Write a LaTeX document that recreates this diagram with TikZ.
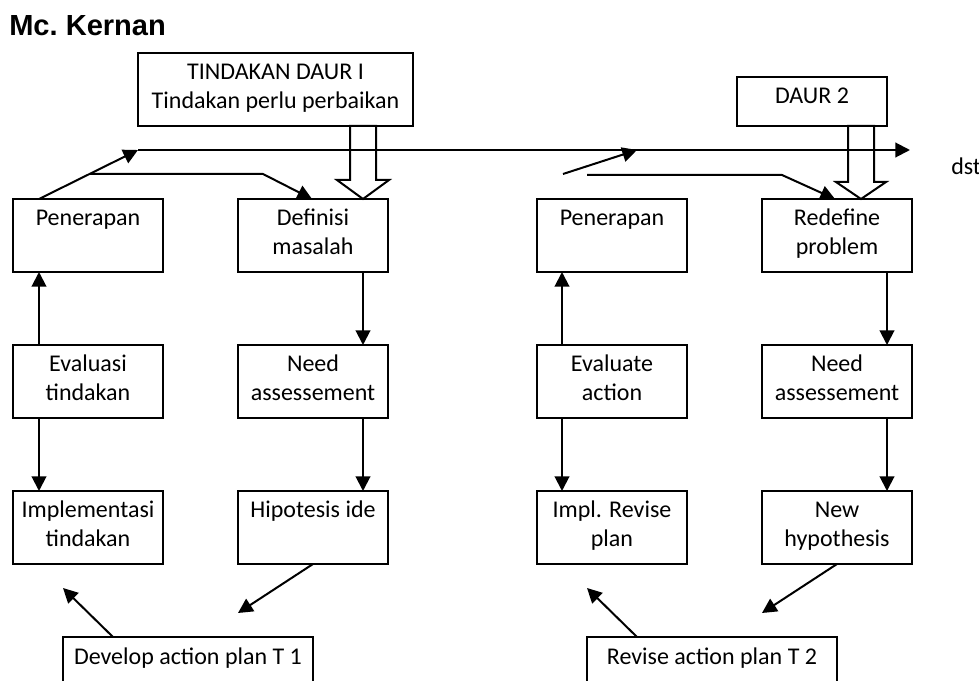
\documentclass[tikz,border=0pt]{standalone}
\usepackage{fontspec}
\setmainfont{Carlito}
\newfontfamily\titlefont{Liberation Sans}
\usetikzlibrary{arrows.meta,calc}
\newcommand{\tl}[1]{\parbox[t]{250pt}{\centering #1}}
\begin{document}
\begin{tikzpicture}[x=0.75pt,y=-0.75pt,
  box/.style={draw,line width=1.5pt,rectangle,anchor=north west,minimum width=112.5pt,minimum height=54.75pt,inner sep=0pt,outer sep=0pt},
  lbl/.style={anchor=base,inner sep=0pt,outer sep=0pt,font=\fontsize{18pt}{21.75pt}\selectfont},
  arr/.style={line width=1.5pt,-{Triangle[length=11pt,width=11pt]}},
  ln/.style={line width=1.5pt},
  blk/.style={line width=1.5pt,line join=miter}]
\clip (0,0) rectangle (979,681);
% title
\node[anchor=base west,inner sep=0pt,font=\titlefont\bfseries\fontsize{21.8pt}{26pt}\selectfont] (title) at (9,36) {Mc.\ Kernan};
% top boxes
\node[box,minimum width=206.25pt] (tind) at (138,53) {};
\node[lbl] (tindt) at ($(tind.north)+(0,26.5)$) {\tl{TINDAKAN DAUR I\\Tindakan perlu perbaikan}};
\node[box,minimum height=36.75pt] (daur) at (737,77) {};
\node[lbl] (daurt) at ($(daur.north)+(0,27)$) {\tl{DAUR 2}};
% grid boxes
\node[box] (pen1) at (13,199) {};
\node[box] (def1) at (238,199) {};
\node[box] (pen2) at (537,199) {};
\node[box] (red2) at (762,199) {};
\node[box] (ev1) at (13,345) {};
\node[box] (need1) at (238,345) {};
\node[box] (ev2) at (537,345) {};
\node[box] (need2) at (762,345) {};
\node[box] (imp1) at (13,491) {};
\node[box] (hip1) at (238,491) {};
\node[box] (imp2) at (537,491) {};
\node[box] (hyp2) at (762,491) {};
\node[box,minimum width=187.5pt] (dev) at (63,637) {};
\node[box,minimum width=187.5pt] (rev) at (587,637) {};
% texts
\node[lbl] (pen1t) at ($(pen1.north)+(0,26.5)$) {\tl{Penerapan}};
\node[lbl] (def1t) at ($(def1.north)+(0,26.5)$) {\tl{Definisi\\masalah}};
\node[lbl] (pen2t) at ($(pen2.north)+(0,26.5)$) {\tl{Penerapan}};
\node[lbl] (red2t) at ($(red2.north)+(0,26.5)$) {\tl{Redefine\\problem}};
\node[lbl] (ev1t) at ($(ev1.north)+(0,26.5)$) {\tl{Evaluasi\\tindakan}};
\node[lbl] (need1t) at ($(need1.north)+(0,26.5)$) {\tl{Need\\assessement}};
\node[lbl] (ev2t) at ($(ev2.north)+(0,26.5)$) {\tl{Evaluate\\action}};
\node[lbl] (need2t) at ($(need2.north)+(0,26.5)$) {\tl{Need\\assessement}};
\node[lbl] (imp1t) at ($(imp1.north)+(0,26.5)$) {\tl{Implementasi\\tindakan}};
\node[lbl] (hip1t) at ($(hip1.north)+(0,26.5)$) {\tl{Hipotesis ide}};
\node[lbl] (imp2t) at ($(imp2.north)+(0,26.5)$) {\tl{Impl. Revise\\plan}};
\node[lbl] (hyp2t) at ($(hyp2.north)+(0,26.5)$) {\tl{New\\hypothesis}};
\node[lbl] (devt) at ($(dev.north)+(0,27)$) {\tl{Develop action plan T 1}};
\node[lbl] (revt) at ($(rev.north)+(0,27)$) {\tl{Revise action plan T 2}};
\node[anchor=base west,inner sep=0pt,font=\fontsize{18pt}{21.75pt}\selectfont] (dst) at (951,175) {dst};
% vertical arrows
\draw[arr] ($(ev1.north west)+(26,0)$) -- ($(pen1.south west)+(26,0)$);
\draw[arr] ($(ev1.south west)+(26,0)$) -- ($(imp1.north west)+(26,0)$);
\draw[arr] ($(def1.south west)+(125,0)$) -- ($(need1.north west)+(125,0)$);
\draw[arr] ($(need1.south west)+(125,0)$) -- ($(hip1.north west)+(125,0)$);
\draw[arr] ($(ev2.north west)+(25,0)$) -- ($(pen2.south west)+(25,0)$);
\draw[arr] ($(ev2.south west)+(25,0)$) -- ($(imp2.north west)+(25,0)$);
\draw[arr] ($(red2.south west)+(125,0)$) -- ($(need2.north west)+(125,0)$);
\draw[arr] ($(need2.south west)+(125,0)$) -- ($(hyp2.north west)+(125,0)$);
% long horizontal line
\coordinate (hs) at (138,150);
\coordinate (he) at (910,150);
\draw[arr] (hs) -- (he);
% left loop
\coordinate (p1top) at ($(pen1.north west)+(26,0)$);
\draw[arr] (p1top) -- (hs);
\draw[arr] ($(p1top)!0.515!(hs)$) -- (263,174) -- ($(def1.north west)+(74,0)$);
% right loop
\coordinate (r1s) at (563,174);
\coordinate (r1e) at (637,150);
\draw[arr] (r1s) -- (r1e);
\draw[arr] (587,175) -- (782,175) -- ($(red2.north west)+(73,0)$);
% block arrows
\coordinate (t1) at ($(def1.north west)+(125,0)$);
\draw[blk] (t1) -- ($(t1)+(-26,-19)$) -- ($(t1)+(-13,-19)$) -- ($(t1 |- tind.south)+(-13,0)$)
  -- ($(t1 |- tind.south)+(13,0)$) -- ($(t1)+(13,-19)$) -- ($(t1)+(26,-19)$) -- cycle;
\coordinate (t2) at ($(red2.north west)+(99,0)$);
\draw[blk] (t2) -- ($(t2)+(-25,-17)$) -- ($(t2)+(-13,-17)$) -- ($(t2 |- daur.south)+(-13,0)$)
  -- ($(t2 |- daur.south)+(13,0)$) -- ($(t2)+(13,-17)$) -- ($(t2)+(25,-17)$) -- cycle;
% bottom diagonals
\coordinate (b1) at (63,588);
\coordinate (b2) at (238,613);
\coordinate (b3) at (587,588);
\coordinate (b4) at (762,613);
\draw[arr] ($(dev.north west)+(50,0)$) -- (b1);
\draw[arr] (hip1.south) -- (b2);
\draw[arr] ($(rev.north west)+(50,0)$) -- (b3);
\draw[arr] (hyp2.south) -- (b4);
\end{tikzpicture}
\end{document}
